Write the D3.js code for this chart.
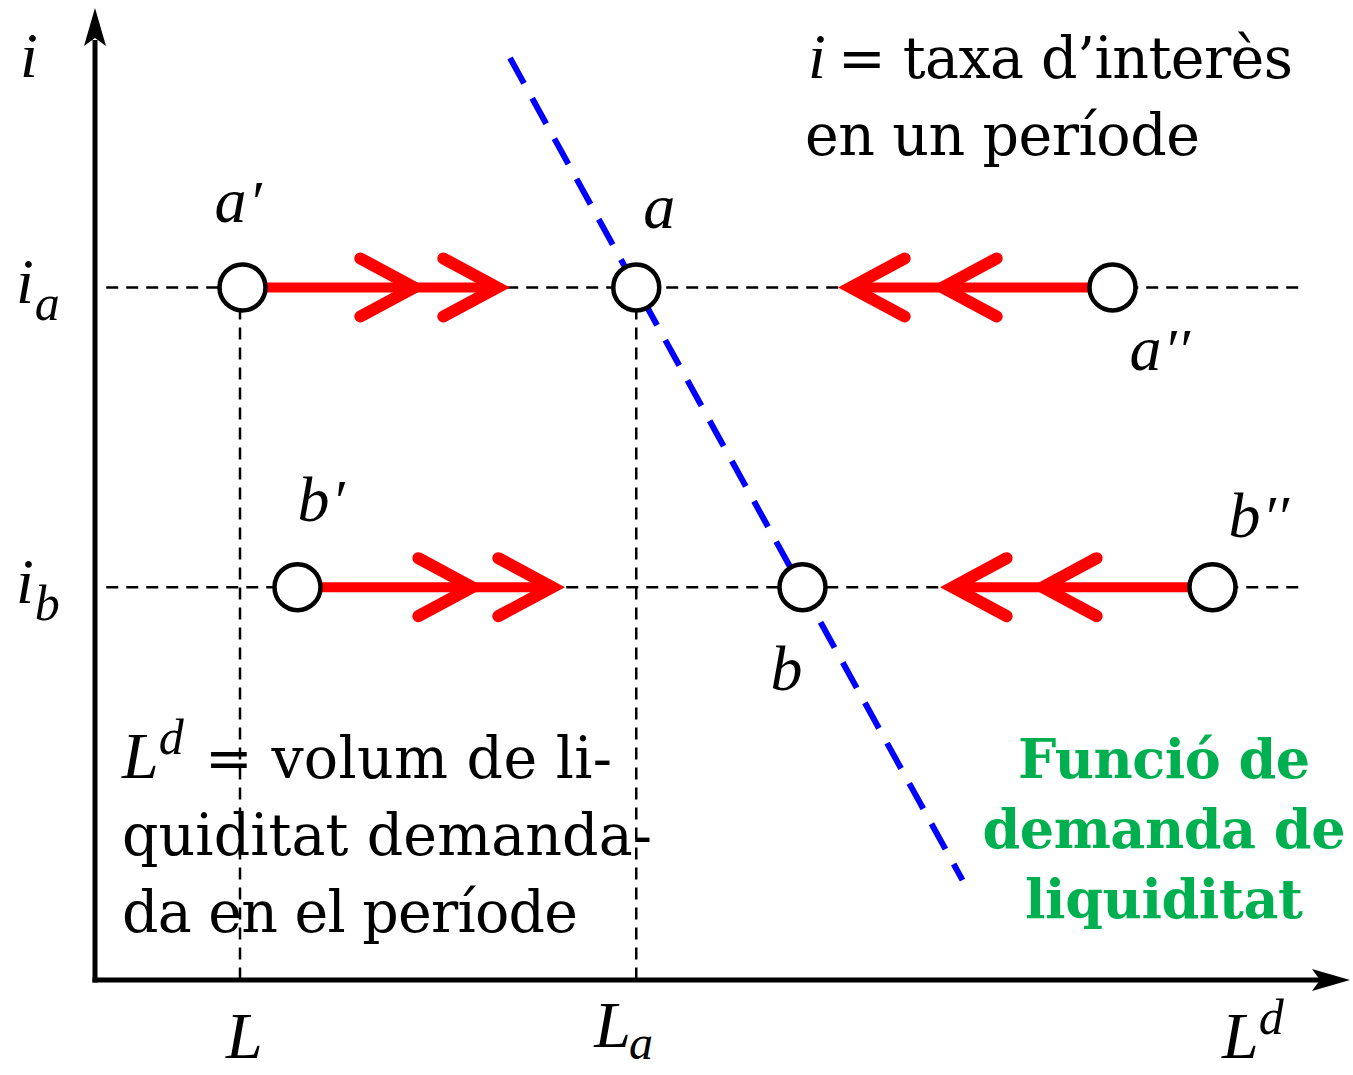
<!DOCTYPE html>
<html><head><meta charset="utf-8">
<script src="https://cdn.jsdelivr.net/npm/d3@7"></script>
<style>body{margin:0;background:#fff}svg{display:block}</style>
</head><body>
<svg id="c" width="1353" height="1075"></svg>
<script>
// ---- data ----
const levels = [{name:"a", y:71.4}, {name:"b", y:40.5}];
const points = [
  {id:"a'",  x:11.8, y:71.4, base:"a", prime:"′"},
  {id:"a",   x:43.3, y:71.4, base:"a", prime:""},
  {id:"a''", x:81.4, y:71.4, base:"a", prime:"′′"},
  {id:"b'",  x:16.2, y:40.5, base:"b", prime:"′"},
  {id:"b",   x:56.6, y:40.5, base:"b", prime:""},
  {id:"b''", x:89.4, y:40.5, base:"b", prime:"′′"}
];
const arrows = [
  {from:11.8, tips:[26.56, 33.2], y:71.4, dir:1},
  {from:81.4, tips:[66.8, 59.44], y:71.4, dir:-1},
  {from:16.2, tips:[31.2, 37.6], y:40.5, dir:1},
  {from:89.4, tips:[74.8, 67.6], y:40.5, dir:-1}
];
const verticals = [{x:11.6, label:"L", sub:""}, {x:43.3, label:"L", sub:"a"}];
const demand = [{x:33.2, y:95.05}, {x:69.4, y:10.3}];
const noteTop = ["= taxa d’interès", "en un període"];
const noteLeft = ["= volum de li-", "quiditat demanda-", "da en el període"];
const noteGreen = ["Funció de", "demanda de", "liquiditat"];

// ---- layout (pixel offsets for labels) ----
const labelOffset = {"a'":[-28,-65], "a":[7,-59], "a''":[17,83], "b'":[0,-66], "b":[-32,103], "b''":[16,-50]};

const svg = d3.select("#c");
const x = d3.scaleLinear().domain([0,100]).range([95,1345]);
const y = d3.scaleLinear().domain([0,100]).range([980,10]);
const roman = "'DejaVu Serif', serif";
const math = "'Liberation Serif', serif";

// dashed guide lines
levels.forEach(l => {
  svg.append("line").attr("x1", x(0.9)).attr("x2", x(96.8)).attr("y1", y(l.y)).attr("y2", y(l.y))
    .attr("stroke","#000").attr("stroke-width",2.5).attr("stroke-dasharray","12,8");
});
verticals.forEach(v => {
  svg.append("line").attr("x1", x(v.x)).attr("x2", x(v.x)).attr("y1", y(71.4)).attr("y2", y(0))
    .attr("stroke","#000").attr("stroke-width",2.5).attr("stroke-dasharray","12,8");
});

// demand line
svg.append("line").attr("x1", x(demand[0].x)).attr("y1", y(demand[0].y))
  .attr("x2", x(demand[1].x)).attr("y2", y(demand[1].y))
  .attr("stroke","#0000ff").attr("stroke-width",6).attr("stroke-dasharray","29,17");

// red arrows
const armDx = 54, armDy = 29, sw = 12;
const miterExt = (sw/2) / Math.sin(Math.atan2(armDy, armDx));
arrows.forEach(a => {
  const r = 23;
  const x0 = x(a.from) + a.dir*r;
  const yy = y(a.y);
  const farV = x(a.tips[1]) - a.dir*miterExt;
  svg.append("line").attr("x1", x0).attr("x2", farV).attr("y1", yy).attr("y2", yy)
    .attr("stroke","#ff0000").attr("stroke-width",10);
  a.tips.forEach(t => {
    const tx = x(t) - a.dir*miterExt;
    svg.append("path")
      .attr("d", `M${tx - a.dir*armDx},${yy-armDy} L${tx},${yy} L${tx - a.dir*armDx},${yy+armDy}`)
      .attr("fill","none").attr("stroke","#ff0000").attr("stroke-width",sw)
      .attr("stroke-linecap","round").attr("stroke-linejoin","miter").attr("stroke-miterlimit",10);
  });
});

// circles
svg.selectAll("circle.pt").data(points).join("circle").attr("class","pt")
  .attr("cx", d => x(d.x)).attr("cy", d => y(d.y)).attr("r", 23)
  .attr("fill","#fff").attr("stroke","#000").attr("stroke-width",4.5);

// point labels
points.forEach(p => {
  const o = labelOffset[p.id];
  const t = svg.append("text").attr("x", x(p.x) + o[0]).attr("y", y(p.y) + o[1])
    .attr("font-family", math).attr("font-size",64).attr("font-style","italic");
  t.append("tspan").text(p.base);
  if (p.prime) t.append("tspan").attr("dx",2).attr("font-size",60).text(p.prime);
});

// axes
svg.append("line").attr("x1", x(0)).attr("x2", x(0)).attr("y1", y(0)+2.5).attr("y2", 40)
  .attr("stroke","#000").attr("stroke-width",5);
svg.append("line").attr("x1", x(0)-2.5).attr("x2", 1320).attr("y1", y(0)).attr("y2", y(0))
  .attr("stroke","#000").attr("stroke-width",5);
svg.append("path").attr("d", `M${x(0)},8 L${x(0)+11},46 L${x(0)},38 L${x(0)-11},46 Z`).attr("fill","#000");
svg.append("path").attr("d", `M1350,${y(0)} L1312,${y(0)-11} L1320,${y(0)} L1312,${y(0)+11} Z`).attr("fill","#000");

// axis labels
const italic = (sel) => sel.attr("font-family", math).attr("font-style","italic");
italic(svg.append("text").attr("x", 20).attr("y", 77).attr("font-size",64).text("i"));
[{t:"i", s:"a", yy:71.4},{t:"i", s:"b", yy:40.5}].forEach(d => {
  const tx = italic(svg.append("text").attr("x", 16).attr("y", y(d.yy)+16).attr("font-size",64));
  tx.append("tspan").text(d.t);
  tx.append("tspan").attr("font-size",50).attr("dy",17).attr("dx",1).text(d.s);
});
verticals.forEach(v => {
  const tx = italic(svg.append("text").attr("x", x(v.x) - (v.sub? 42:14)).attr("y", v.sub ? 1047 : 1058).attr("font-size",66));
  tx.append("tspan").text(v.label);
  if (v.sub) tx.append("tspan").attr("font-size",48).attr("dy",12).attr("dx",-2).text(v.sub);
});
{
  const tx = italic(svg.append("text").attr("x", 1222).attr("y", 1058).attr("font-size",66));
  tx.append("tspan").text("L");
  tx.append("tspan").attr("font-size",50).attr("dy",-24).attr("dx",0).text("d");
}

// top right note
italic(svg.append("text").attr("x", 808).attr("y", 78).attr("font-size",64).text("i"));
svg.append("text").attr("x", 838).attr("y", 78).attr("font-family", roman).attr("font-size",57)
  .attr("textLength",455).attr("lengthAdjust","spacing").text(noteTop[0]);
svg.append("text").attr("x", 805).attr("y", 155).attr("font-family", roman).attr("font-size",57)
  .attr("textLength",395).attr("lengthAdjust","spacing").text(noteTop[1]);

// bottom left note
{
  const tx = italic(svg.append("text").attr("x", 122).attr("y", 778).attr("font-size",66));
  tx.append("tspan").text("L");
  tx.append("tspan").attr("font-size",50).attr("dy",-24).attr("dx",0).text("d");
  const widths = [407, 530, 456];
  const xs = [205, 122, 122];
  noteLeft.forEach((s,i) => {
    svg.append("text").attr("x", xs[i]).attr("y", 778 + i*77).attr("font-family", roman).attr("font-size",57)
      .attr("textLength", widths[i]).attr("lengthAdjust","spacing").text(s);
  });
}

// green note
const gw = [292, 363, 278];
noteGreen.forEach((s,i) => {
  svg.append("text").attr("x", 1164 - gw[i]/2).attr("y", 778 + i*70)
    .attr("font-family", roman).attr("font-weight","bold").attr("font-size",54)
    .attr("textLength", gw[i]).attr("lengthAdjust","spacing")
    .attr("fill","#00b050").text(s);
});
</script>
</body></html>
